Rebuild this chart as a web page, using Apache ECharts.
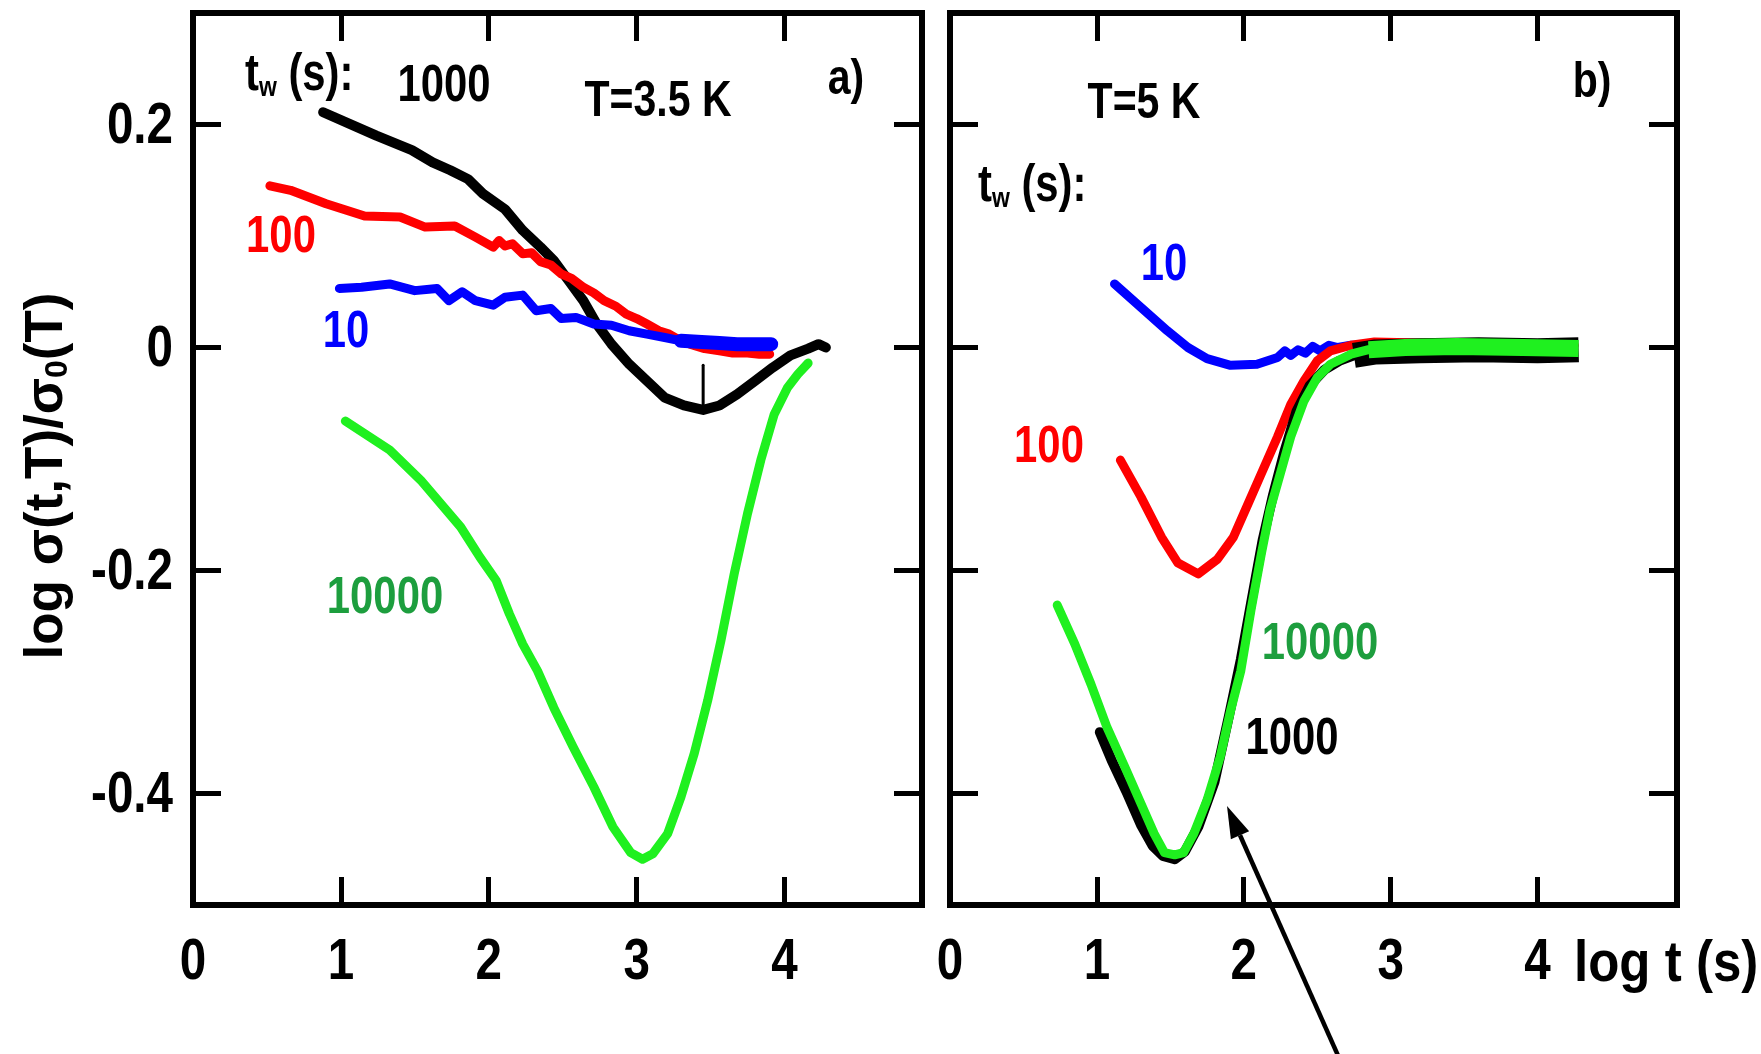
<!DOCTYPE html>
<html>
<head>
<meta charset="utf-8">
<script src="https://cdn.jsdelivr.net/npm/echarts@6/dist/echarts.min.js"></script>
<style>
    body{margin:0;background:#fff;}
    #main{width:1761px;height:1054px;}
</style>
</head>
<body>
<div id="main"></div>
<script>
// tick values
var xTicks = [0, 1, 2, 3, 4];
var xInnerTicks = [1, 2, 3, 4];
var yTicks = [-0.4, -0.2, 0, 0.2];
var yTickLabels = ['-0.4', '-0.2', '0', '0.2'];

// a) T=3.5 K   [log t, log sigma/sigma0]
var a_tw10 = [[0.99,0.053],[1.14,0.054],[1.33,0.057],[1.50,0.051],[1.65,0.053],[1.73,0.042],[1.82,0.050],[1.91,0.042],[2.03,0.038],
    [2.11,0.045],[2.23,0.047],[2.32,0.033],[2.42,0.035],[2.49,0.026],[2.59,0.027],[2.71,0.021],[2.83,0.020],[2.95,0.015],[3.07,0.012],
    [3.19,0.009],[3.30,0.006]];
var a_tw10_tail = [[3.30,0.006],[3.44,0.005],[3.56,0.004],[3.68,0.003],[3.80,0.003],[3.91,0.003]];
var a_tw100 = [[0.52,0.145],[0.66,0.141],[0.90,0.129],[1.16,0.118],[1.40,0.117],[1.57,0.108],[1.77,0.109],[1.91,0.099],[2.03,0.090],
    [2.07,0.096],[2.11,0.091],[2.16,0.093],[2.23,0.084],[2.29,0.085],[2.35,0.077],[2.42,0.074],[2.49,0.066],[2.56,0.062],[2.64,0.054],
    [2.71,0.049],[2.78,0.042],[2.86,0.037],[2.93,0.030],[3.00,0.026],[3.07,0.021],[3.15,0.015],[3.22,0.012],[3.30,0.006],[3.36,0.003],
    [3.46,-0.001],[3.56,-0.003],[3.65,-0.005],[3.75,-0.005],[3.83,-0.006],[3.90,-0.006]];
var a_tw1000 = [[0.88,0.211],[1.24,0.190],[1.48,0.177],[1.62,0.166],[1.74,0.159],[1.86,0.151],[1.96,0.138],[2.11,0.124],[2.23,0.105],
    [2.35,0.090],[2.44,0.078],[2.54,0.060],[2.64,0.042],[2.73,0.021],[2.83,0.003],[2.95,-0.015],[3.07,-0.030],[3.19,-0.045],[3.32,-0.052],
    [3.45,-0.056],[3.56,-0.052],[3.68,-0.042],[3.80,-0.030],[3.92,-0.018],[4.04,-0.007],[4.16,-0.001],[4.23,0.003],[4.28,0.000]];
var a_tw1000_mark = [[3.45,-0.016],[3.45,-0.056]];
var a_tw10000 = [[1.03,-0.066],[1.33,-0.092],[1.54,-0.119],[1.81,-0.161],[1.94,-0.188],[2.05,-0.209],[2.14,-0.239],[2.23,-0.266],
    [2.33,-0.290],[2.44,-0.323],[2.57,-0.358],[2.71,-0.394],[2.84,-0.430],[2.96,-0.453],[3.04,-0.459],[3.11,-0.454],[3.21,-0.436],
    [3.30,-0.403],[3.39,-0.364],[3.48,-0.317],[3.57,-0.263],[3.66,-0.203],[3.75,-0.149],[3.84,-0.101],[3.93,-0.060],[4.02,-0.036],
    [4.09,-0.024],[4.16,-0.014]];

// b) T=5 K
var b_tw10 = [[1.12,0.057],[1.30,0.036],[1.48,0.015],[1.62,0.000],[1.75,-0.010],[1.91,-0.016],[2.09,-0.015],[2.23,-0.009],[2.28,-0.003],
    [2.32,-0.007],[2.37,-0.002],[2.42,-0.005],[2.47,0.001],[2.52,-0.003],[2.58,0.002],[2.64,0.000],[2.73,0.002],[2.80,0.002]];
var b_tw100 = [[1.16,-0.101],[1.30,-0.134],[1.44,-0.170],[1.55,-0.193],[1.69,-0.203],[1.82,-0.190],[1.93,-0.170],[2.03,-0.140],
    [2.12,-0.113],[2.23,-0.080],[2.32,-0.051],[2.41,-0.030],[2.50,-0.012],[2.59,-0.003],[2.73,0.002],[2.89,0.005],[3.20,0.004],
    [3.60,0.004],[4.00,0.003],[4.25,0.002]];
var b_tw1000 = [[1.02,-0.345],[1.10,-0.370],[1.20,-0.398],[1.30,-0.428],[1.38,-0.447],[1.45,-0.456],[1.53,-0.459],[1.60,-0.452],
    [1.69,-0.430],[1.80,-0.390],[1.90,-0.330],[1.98,-0.280],[2.06,-0.222],[2.13,-0.172],[2.20,-0.132],[2.28,-0.092],[2.36,-0.057],
    [2.45,-0.034],[2.55,-0.020],[2.65,-0.012],[2.75,-0.007]];
var b_tw1000_flat = [[2.75,-0.007],[2.90,-0.004],[3.20,-0.003],[3.60,-0.002],[4.00,-0.003],[4.28,-0.002]];
var b_tw10000 = [[0.73,-0.231],[0.85,-0.266],[0.96,-0.302],[1.07,-0.341],[1.19,-0.376],[1.30,-0.409],[1.39,-0.436],[1.46,-0.453],
    [1.53,-0.455],[1.59,-0.453],[1.66,-0.436],[1.75,-0.406],[1.84,-0.367],[1.91,-0.326],[1.98,-0.290],[2.05,-0.235],[2.12,-0.185],
    [2.18,-0.145],[2.23,-0.122],[2.32,-0.080],[2.41,-0.048],[2.50,-0.027],[2.59,-0.015],[2.73,-0.006],[2.85,-0.002]];
var b_tw10000_flat = [[2.85,-0.002],[3.10,0.000],[3.45,0.001],[3.90,0.000],[4.28,-0.001]];

var FONT = '"Liberation Sans",Arial,Helvetica,sans-serif';
var NARROW = 0.82;
var RED = '#ff0000', BLUE = '#0000ff', GREEN = '#1ff01f', GREEN_TXT = '#1d9e3e';

var chart = echarts.init(document.getElementById('main'));

//坐标轴 (labels are drawn as narrow graphic text below)
function xAx(g, pos, max){
    return {
        gridIndex: g, type: 'value', min: 0, max: max, position: pos,
        axisLine: {show: false, onZero: false}, splitLine: {show: false}, axisLabel: {show: false},
        axisTick: {inside: true, length: 28, customValues: xInnerTicks, lineStyle: {color: '#000', width: 5}}
    };
}
function yAx(g, pos){
    return {
        gridIndex: g, type: 'value', min: -0.5, max: 0.3, position: pos,
        axisLine: {show: false, onZero: false}, splitLine: {show: false}, axisLabel: {show: false},
        axisTick: {inside: true, length: 28, customValues: yTicks, lineStyle: {color: '#000', width: 5}}
    };
}
function line(data, color, w, xi, yi, cap){
    return {type: 'line', data: data, xAxisIndex: xi, yAxisIndex: yi, showSymbol: false, silent: true,
        lineStyle: {color: color, width: w, join: 'round', cap: cap || 'round'}};
}

//文字
function txt(x, y, s, color, size, align, sx){
    return {type: 'text', x: x, y: y, scaleX: sx || NARROW, silent: true,
        style: {text: s, fill: color, font: 'bold ' + size + 'px ' + FONT, align: align || 'center', verticalAlign: 'middle'}};
}
function twLabel(x, y){
    return {type: 'text', x: x, y: y, scaleX: NARROW, silent: true,
        style: {text: '{n|t}{s|w}{n| (s):}', fill: '#000', align: 'left', verticalAlign: 'middle',
            rich: {
                n: {fontSize: 51, fontWeight: 'bold', fontFamily: FONT},
                s: {fontSize: 28, fontWeight: 'bold', fontFamily: FONT, padding: [24, 0, 0, 0]}
            }}};
}

// arrow pointing at the tw=1000 / 10000 curves of b)
var tip = [1227, 806], tail = [1340, 1060];
function arrow(){
    var dx = tip[0] - tail[0], dy = tip[1] - tail[1];
    var len = Math.sqrt(dx * dx + dy * dy), ux = dx / len, uy = dy / len;
    var bx = tip[0] - 32 * ux, by = tip[1] - 32 * uy;
    return [
        {type: 'line', silent: true, shape: {x1: tail[0], y1: tail[1], x2: bx, y2: by}, style: {stroke: '#000', lineWidth: 4.5}},
        {type: 'polygon', silent: true, shape: {points: [tip, [bx - 10 * uy, by + 10 * ux], [bx + 10 * uy, by - 10 * ux]]}, style: {fill: '#000'}}
    ];
}

chart.setOption({
    animation: false,
    backgroundColor: '#fff',
    grid: [
        {left: 193, top: 13, width: 729, height: 892, show: true, borderColor: '#000', borderWidth: 6},
        {left: 950, top: 13, width: 727, height: 892, show: true, borderColor: '#000', borderWidth: 6}
    ],
    xAxis: [xAx(0, 'bottom', 4.93), xAx(0, 'top', 4.93), xAx(1, 'bottom', 4.95), xAx(1, 'top', 4.95)],
    yAxis: [yAx(0, 'left'), yAx(0, 'right'), yAx(1, 'left'), yAx(1, 'right')],
    series: [
        line(a_tw1000, '#000', 10, 0, 0),
        line(a_tw1000_mark, '#000', 3, 0, 0),
        line(a_tw100, RED, 9, 0, 0),
        line(a_tw10, BLUE, 9, 0, 0),
        line(a_tw10_tail, BLUE, 14, 0, 0),
        line(a_tw10000, GREEN, 9, 0, 0),
        line(b_tw10, BLUE, 9, 2, 2),
        line(b_tw100, RED, 9, 2, 2),
        line(b_tw1000, '#000', 10, 2, 2),
        line(b_tw1000_flat, '#000', 25, 2, 2, 'butt'),
        line(b_tw10000, GREEN, 9, 2, 2),
        line(b_tw10000_flat, GREEN, 17, 2, 2, 'butt')
    ]
});

// tick labels placed through the axes
var graphics = [];
[0, 1].forEach(function(g){
    xTicks.forEach(function(v){
        var p = chart.convertToPixel({gridIndex: g}, [v, -0.5]);
        graphics.push(txt(p[0], p[1] + 58, String(v), '#000', 58));
    });
});
yTicks.forEach(function(v, i){
    var p = chart.convertToPixel({gridIndex: 0}, [0, v]);
    graphics.push(txt(p[0] - 20, p[1] + 2, yTickLabels[i], '#000', 58, 'right'));
});

graphics = graphics.concat([
    twLabel(245, 76), txt(444, 87, '1000', '#000', 51), txt(658, 102, 'T=3.5 K', '#000', 50), txt(846, 80, 'a)', '#000', 50),
    txt(281, 238, '100', RED, 51), txt(346, 333, '10', BLUE, 51), txt(385, 599, '10000', GREEN_TXT, 51),
    txt(1144, 104, 'T=5 K', '#000', 50), txt(1592, 83, 'b)', '#000', 50), twLabel(978, 187),
    txt(1164, 266, '10', BLUE, 51), txt(1049, 448, '100', RED, 51),
    txt(1320, 645, '10000', GREEN_TXT, 51), txt(1292, 740, '1000', '#000', 51),
    txt(1574, 965, 'log t (s)', '#000', 58, 'left', 0.88),
    {type: 'text', x: 47, y: 476, rotation: Math.PI / 2, silent: true,
        style: {text: '{n|log σ(t,T)/σ}{s|0}{n|(T)}', fill: '#000', align: 'center', verticalAlign: 'middle',
            rich: {
                n: {fontSize: 53, fontWeight: 'bold', fontFamily: FONT},
                s: {fontSize: 32, fontWeight: 'bold', fontFamily: FONT, padding: [22, 0, 0, 0]}
            }}}
]).concat(arrow());

chart.setOption({graphic: graphics});
</script>
</body>
</html>
